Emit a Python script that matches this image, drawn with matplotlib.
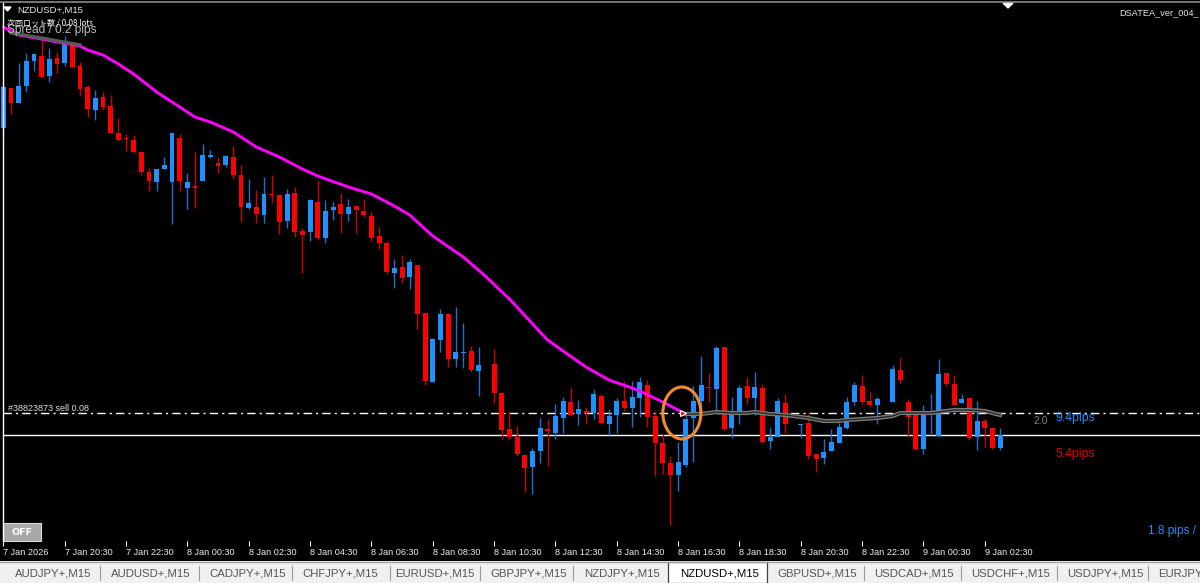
import numpy as np
import matplotlib.pyplot as plt
from matplotlib.patches import Ellipse, Rectangle, Polygon

# NZDUSD+ M15 candles, 7 Jan 18:30 -> 9 Jan 03:00 (131 bars)
# no price scale is visible in the screenshot, so levels are chart px above the bottom edge
nan = np.nan
opens = [411.7, 451.7, 436.7, 454.0, 479.0, 484.0, 464.3, 482.3, 476.7, 495.0,
         474.0, 452.7, 430.0, 442.7, 434.0, 407.3, 401.7, 400.0, 388.0, 368.0,
         358.0, 371.0, 358.3, 401.7, 352.3, 353.7, 358.7, 383.0, 376.7, 374.7,
         383.3, 365.0, 331.7, 332.7, 325.3, 346.0, 345.0, 319.3, 346.7, 309.3,
         308.0, 338.3, 301.7, 330.0, 335.7, 326.0, 334.3, 329.0, 324.0, 304.0,
         297.3, 267.3, 273.0, 262.7, 275.0, 227.0, 158.3, 200.0, 226.0, 180.7,
         187.0, 189.3, 169.3, nan, 176.0, 147.3, 110.7, 103.3, 85.0, 72.7,
         89.3, 110.7, 107.3, 121.7, 137.7, 125.7, 129.0, 127.3, 144.3, 116.0,
         124.7, 139.3, 132.3, 141.7, 155.0, 124.0, 96.7, 76.7, 65.0, 75.0,
         121.7, 139.0, 153.3, 151.0, 193.3, 111.7, 126.0, 154.0, 141.7, 152.0,
         99.3, 102.7, 137.3, nan, 114.7, 117.3, 85.7, 82.3, 89.0, 96.7,
         111.7, 138.3, 154.0, 139.3, 135.0, nan, 138.3, 170.0, 138.3, 125.0,
         91.0, 127.3, 104.0, 166.7, 156.0, 137.3, 142.3, 103.3, 119.3, 111.7, 91.7]
closes = [453.3, 436.7, 454.3, 479.3, 485.7, 463.3, 481.0, 476.0, 496.7, 472.7,
          451.0, 430.7, 441.7, 432.7, 406.7, 400.0, 400.7, 388.3, 368.3, 359.0,
          371.0, 375.0, 406.7, 359.3, 358.3, 352.3, 385.3, 385.3, 374.3, 384.0,
          364.7, 333.3, 336.7, 326.3, 346.0, 344.7, 318.3, 346.0, 308.0, 305.0,
          340.0, 301.7, 329.0, 333.3, 326.0, 333.3, 330.0, 324.7, 302.0, 297.3,
          268.3, 272.0, 261.7, 277.7, 226.0, 158.7, 201.0, 226.0, 181.0, 188.3,
          188.3, 170.0, 175.0, nan, 146.7, 110.0, 103.3, 86.0, 71.7, 89.3,
          111.7, 109.3, 124.0, 138.7, 125.0, 130.7, 126.7, 146.0, 116.7, 124.0,
          138.7, 132.3, 143.3, 158.3, 123.3, 96.7, 76.7, 65.0, 77.7, 120.7,
          138.7, 155.0, 152.0, 192.3, 111.0, 126.0, 152.0, 141.7, 152.7, 98.3,
          102.7, 138.7, 116.0, nan, 116.0, 84.0, 81.3, 87.7, 98.3, 112.7,
          137.7, 155.0, 137.7, 135.0, 140.7, nan, 171.0, 160.0, 123.3, 90.7,
          125.0, 129.0, 165.7, 156.0, 135.0, 141.0, 102.3, 119.3, 112.3, 92.3, 104.7]
highs = [458.3, 451.7, 477.3, 486.7, 487.3, 503.3, 491.7, 487.7, 504.0, 498.3,
         478.3, 454.7, 449.7, 448.0, 445.0, 421.7, 406.0, 405.0, 388.0, 371.7,
         371.0, 382.7, 406.7, 405.7, 366.7, 388.3, 395.7, 390.0, 382.7, 385.3,
         394.0, 374.7, 361.0, 350.0, 362.7, 365.0, 346.0, 350.7, 353.3, 311.7,
         341.0, 360.0, 340.0, 338.3, 347.3, 341.0, 335.0, 341.0, 327.7, 313.3,
         299.0, 280.7, 285.3, 280.7, 275.0, 228.0, 202.3, 231.0, 226.7, 232.7,
         216.7, 194.3, 193.3, nan, 190.7, 148.3, 129.0, 114.3, 85.0, 91.7,
         122.3, 120.7, 136.0, 143.3, 151.7, 140.0, 133.3, 150.7, 145.7, 131.3,
         141.7, 159.3, 159.3, 162.7, 160.0, 129.3, 105.7, 84.0, 98.3, 127.3,
         154.0, 184.0, 166.7, 194.3, 193.3, 142.7, 155.0, 162.7, 168.3, 156.0,
         113.3, 142.3, 146.0, nan, 116.0, 126.7, 85.7, 101.0, 111.3, 116.7,
         143.3, 158.3, 165.0, 148.0, 143.3, nan, 175.0, 181.7, 140.7, 125.0,
         135.0, 146.0, 181.0, 167.3, 165.0, 145.7, 142.3, 139.0, 120.7, 111.7, 112.3]
lows = [403.3, 426.0, 436.7, 448.3, 469.3, 462.7, 458.3, 467.3, 474.0, 472.3,
        444.0, 423.3, 420.0, 430.0, 406.7, 399.0, 389.3, 386.7, 365.0, 349.3,
        349.3, 371.0, 315.7, 349.3, 331.0, 331.7, 358.7, 382.3, 367.3, 373.3,
        360.7, 317.7, 331.0, 316.7, 317.3, 337.3, 306.3, 311.7, 303.3, 266.7,
        299.3, 300.0, 296.7, 320.0, 307.3, 319.3, 307.3, 322.7, 299.3, 291.3,
        265.7, 252.3, 256.7, 251.3, 211.0, 155.0, 158.3, 187.7, 173.3, 173.3,
        172.3, 167.7, 144.3, nan, 137.3, 100.0, 100.0, 84.0, 48.3, 45.7,
        77.3, 74.3, 100.7, 106.7, 125.0, 115.0, 115.7, 120.7, 116.0, 105.0,
        106.7, 129.0, 113.3, 123.3, 113.3, 64.3, 66.0, 15.0, 49.3, 72.7,
        77.7, 128.3, 138.3, 127.7, 110.0, 102.3, 116.0, 136.0, 125.0, 97.3,
        90.7, 102.7, 107.3, nan, 101.7, 80.7, 68.3, 75.7, 89.0, 96.7,
        111.0, 135.0, 136.0, 132.7, 116.0, nan, 138.3, 157.3, 104.0, 90.0,
        86.0, 105.0, 102.7, 154.0, 135.0, 137.3, 100.0, 90.0, 92.7, 90.7, 90.0]

# moving average read at sample bars (magenta while falling, grey afterwards)
ma_fall_bars = [0, 2, 10, 11, 13, 15, 17, 20, 22, 25, 27, 30, 33, 36, 39, 41, 45, 48, 51,
                53, 56, 60, 63, 66, 67, 70, 71, 73, 76, 79, 82, 83, 86, 89]
ma_fall_vals = [513, 505, 494, 490, 485, 476, 466, 448, 438, 423, 418, 408, 393, 383, 371,
                364, 353, 346, 334, 325, 304, 283, 263, 241, 233, 208, 200, 189, 173, 160,
                152, 149, 138, 126]
ma_flat_left_bars = [1, 5, 10]
ma_flat_left_vals = [507, 502, 495]
ma_flat_bars = [89, 91, 93, 95, 97, 98, 100, 102, 103, 105, 107, 109, 110, 112, 114, 116,
                117, 119, 121, 123, 124, 126, 128, 130]
ma_flat_vals = [126, 126, 128, 127, 127, 128, 126, 125, 124, 122, 119, 119, 120, 121, 122,
                124, 127, 127, 127, 129, 130, 130, 129, 125]

sell_level = 127
bid_level = 105
entry_bar = 88.7

tick_bars = list(range(0, 129, 8))
tick_labels = ["7 Jan 2026", "7 Jan 20:30", "7 Jan 22:30", "8 Jan 00:30", "8 Jan 02:30",
               "8 Jan 04:30", "8 Jan 06:30", "8 Jan 08:30", "8 Jan 10:30", "8 Jan 12:30",
               "8 Jan 14:30", "8 Jan 16:30", "8 Jan 18:30", "8 Jan 20:30", "8 Jan 22:30",
               "9 Jan 00:30", "9 Jan 02:30"]

tabs = ["AUDJPY+,M15", "AUDUSD+,M15", "CADJPY+,M15", "CHFJPY+,M15", "EURUSD+,M15",
        "GBPJPY+,M15", "NZDJPY+,M15", "NZDUSD+,M15", "GBPUSD+,M15", "USDCAD+,M15",
        "USDCHF+,M15", "USDJPY+,M15", "EURJPY+,M15"]
tab_left = [15, 111, 209, 302, 395, 490, 584, 680, 777, 874, 971, 1067, 1158]
tab_seps = [100, 199, 292, 390, 480, 573, 864, 961, 1057, 1148]
active_tab = "NZDUSD+,M15"

W, H = 1200, 583
BLUE = '#1e90ff'
RED = '#ff0000'

fig = plt.figure(figsize=(W / 100, H / 100), dpi=100, facecolor='black')

# ---- price area ----
ax = fig.add_axes([0, (H - 541) / H, 1, 541 / H])
ax.set_facecolor('black')
px_per_bar = 7.667
x0 = 3.33
ax.set_xlim(-x0 / px_per_bar, (W - x0) / px_per_bar)
ax.set_ylim(-1, 540)
for s in ax.spines.values():
    s.set_visible(False)
ax.set_yticks([])

o = np.array(opens)
c = np.array(closes)
hi = np.array(highs)
lo = np.array(lows)
x = np.arange(len(o))
up = c >= o
body_lo = np.minimum(o, c)
body_h = np.maximum(np.abs(c - o), 1.2)

ax.vlines(x[up], lo[up], hi[up], color='#1a72cc', lw=1.0, zorder=2)
ax.vlines(x[~up], lo[~up], hi[~up], color='#cc0000', lw=1.0, zorder=2)
ax.bar(x[up], body_h[up], bottom=body_lo[up], width=0.65, color=BLUE, lw=0, zorder=3)
ax.bar(x[~up], body_h[~up], bottom=body_lo[~up], width=0.65, color=RED, lw=0, zorder=3)

# order / bid lines
ax.axhline(sell_level, xmin=3 / W, color='white', lw=1.0, ls=(0, (6, 3, 1.5, 3)), zorder=1)
ax.axhline(bid_level, xmin=3 / W, color='white', lw=1.0, zorder=1)

# moving averages
ax.plot(ma_fall_bars, ma_fall_vals, color='#ff00ff', lw=2.1, zorder=4, solid_capstyle='round')
ax.plot(ma_flat_left_bars, ma_flat_left_vals, color='#5a5a5a', lw=2.4, zorder=5)
ax.plot(ma_flat_bars, ma_flat_vals, color='#7a7a7a', lw=3.0, zorder=4)
ax.plot(ma_flat_bars, ma_flat_vals, color='#262626', lw=1.0, zorder=4)

# entry marker + highlight circle
ax.plot([entry_bar], [sell_level], marker='>', ms=5, color=RED, mec='white', mew=0.8, zorder=6)
ax.add_patch(Ellipse((entry_bar - 0.2, sell_level), 38 / px_per_bar, 52, fill=False,
                     ec='#f28a2e', lw=2.2, zorder=6))

# time axis
ax.set_xticks(tick_bars)
ax.set_xticklabels(tick_labels, ha='left', fontsize=6.6, color='#f0f0f0',
                   family='Liberation Sans')
ax.tick_params(axis='x', colors='white', length=3.5, width=0.8, pad=1.5, labelcolor='#f0f0f0')

# ---- overlay in pixel coords: texts, frame, footer ----
ov = fig.add_axes([0, 0, 1, 1])
ov.set_xlim(0, W)
ov.set_ylim(H, 0)
ov.axis('off')
ov.patch.set_alpha(0)

ov.plot([0, W], [2, 2], color='#8a8a8a', lw=1.2)
ov.plot([2.5, 2.5], [3, 541], color='white', lw=1.0)

ov.add_patch(Polygon([[4, 7], [11, 7], [7.5, 11]], closed=True, color='white'))
ov.text(17, 10, "NZDUSD+,M15", color='#e8e8e8', fontsize=6.8, va='center',
        family='Liberation Sans')
ov.add_patch(Polygon([[1003, 3], [1013, 3], [1008, 8]], closed=True, color='white'))
ov.text(1119, 13, "DSATEA_ver_004_", color='#e8e8e8', fontsize=6.6, va='center',
        family='Liberation Sans')

ov.text(7, 30, "Spread / 0.2 pips", color='#bcbcbc', fontsize=8.6, va='center',
        family='Liberation Sans')
ov.text(7, 23, "次回ロット数 / 0.08 lots", color='white', fontsize=5.8, va='center',
        family=['Noto Sans CJK JP', 'DejaVu Sans'])

ov.text(8, 408.5, "#38823873 sell 0.08", color='#e0e0e0', fontsize=6.5, va='center',
        family='Liberation Sans')
ov.text(1033, 421, "2.0", color='#808080', fontsize=7.6, va='center', family='Liberation Sans')
ov.text(1055, 418, "9.4pips", color='#2a8cf0', fontsize=8.8, va='center', family='Liberation Sans')
ov.text(1055, 454, "5.4pips", color='#dd0000', fontsize=8.8, va='center', family='Liberation Sans')
ov.text(1148, 531, "1.8 pips /", color='#2a8cf0', fontsize=8.6, va='center',
        family='Liberation Sans')

# OFF button
ov.add_patch(Rectangle((3, 523), 38, 18, fc='#a8a8a8', ec='#d8d8d8', lw=0.8))
ov.text(22, 532.5, "OFF", color='white', fontsize=6.8, fontweight='bold', ha='center',
        va='center', family='DejaVu Sans')

# footer tabs
ov.add_patch(Rectangle((0, 561), W, 22, fc='#f0f0f0', ec='none'))
ov.plot([0, W], [561.5, 561.5], color='#a0a0a0', lw=1.0)
for name, tx in zip(tabs, tab_left):
    if name == active_tab:
        ov.add_patch(Rectangle((668, 562), 99, 21, fc='white', ec='#404040', lw=0.9))
        ov.text(tx, 573, name, color='black', fontsize=8.2, ha='left', va='center',
                family='Liberation Sans')
    else:
        ov.text(tx, 573, name, color='#555555', fontsize=8.2, ha='left', va='center',
                family='Liberation Sans')
for sx in tab_seps:
    ov.plot([sx, sx], [566, 580], color='#9a9a9a', lw=0.8)

fig.savefig("out.png", dpi=100, facecolor='black')
